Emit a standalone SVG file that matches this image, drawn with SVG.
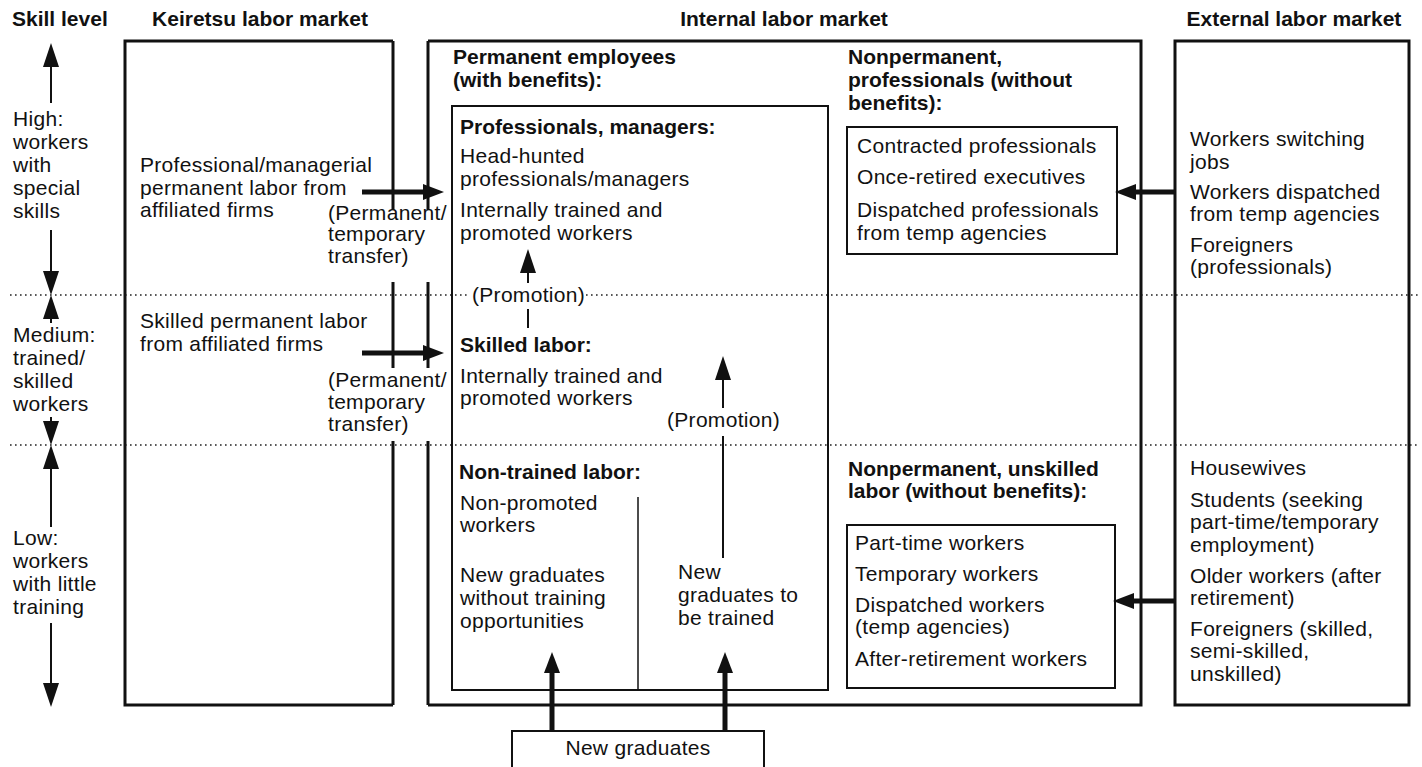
<svg xmlns="http://www.w3.org/2000/svg" width="1422" height="767" viewBox="0 0 1422 767">
  <style>
    text { font-family: "Liberation Sans", Arial, sans-serif; font-size: 21px; fill: #111; letter-spacing: 0.3px; }
    .h { font-weight: bold; letter-spacing: 0; }
    .title { font-weight: bold; letter-spacing: 0; text-anchor: middle; }
    .mid { text-anchor: middle; }
    .frame { fill: none; stroke: #111; stroke-width: 3; }
    .box { fill: none; stroke: #111; stroke-width: 2; }
    .rule { fill: none; stroke: #111; stroke-width: 1.5; }
    .dots { fill: none; stroke: #222; stroke-width: 1.6; stroke-dasharray: 1.6 3.4; }
    .thin { fill: none; stroke: #111; stroke-width: 2; }
    .thick { fill: none; stroke: #111; stroke-width: 5; }
  </style>
  <defs>
    <marker id="head-thin" viewBox="0 -8 24 16" markerWidth="24" markerHeight="16" refX="0" refY="0" markerUnits="userSpaceOnUse" orient="auto">
      <path d="M0,-8 L24,0 L0,8 Z" fill="#111"/>
    </marker>
    <marker id="head-thick" viewBox="0 -8 21 16" markerWidth="21" markerHeight="16" refX="0" refY="0" markerUnits="userSpaceOnUse" orient="auto">
      <path d="M0,-8 L21,0 L0,8 Z" fill="#111"/>
    </marker>
  </defs>

  <rect width="1422" height="767" fill="#fff"/>

  <!-- column titles -->
  <g id="titles">
    <text class="h" x="12" y="26">Skill level</text>
    <text class="title" x="260" y="26">Keiretsu labor market</text>
    <text class="title" x="784" y="26">Internal labor market</text>
    <text class="title" x="1294" y="26">External labor market</text>
  </g>

  <!-- skill level band separators -->
  <g id="bands">
    <path class="dots" d="M10,295 H470 M586,295 H1420"/>
    <path class="dots" d="M10,445 H1420"/>
  </g>

  <!-- skill level scale -->
  <g id="skill-scale">
    <text x="13" y="126">High:</text>
    <text x="13" y="149">workers</text>
    <text x="13" y="172">with</text>
    <text x="13" y="195">special</text>
    <text x="13" y="218">skills</text>
    <text x="13" y="342">Medium:</text>
    <text x="13" y="365">trained/</text>
    <text x="13" y="388">skilled</text>
    <text x="13" y="411">workers</text>
    <text x="13" y="545">Low:</text>
    <text x="13" y="568">workers</text>
    <text x="13" y="591">with little</text>
    <text x="13" y="614">training</text>
  </g>

  <!-- keiretsu labor market -->
  <g id="keiretsu">
    <path class="frame" d="M393,41 H125 V705 H393"/>
    <path class="frame" d="M393,41 V210 M393,282 V368 M393,441 V705"/>
    <text x="140" y="172">Professional/managerial</text>
    <text x="140" y="195">permanent labor from</text>
    <text x="140" y="217">affiliated firms</text>
    <text x="140" y="328">Skilled permanent labor</text>
    <text x="140" y="351">from affiliated firms</text>
  </g>

  <!-- internal labor market frame -->
  <g id="internal">
    <path class="frame" d="M428,41 H1141 V705 H428"/>
    <path class="frame" d="M428,41 V210 M428,282 V368 M428,441 V705"/>
  </g>

  <!-- transfer labels between keiretsu and internal markets -->
  <g id="transfer-labels">
    <text x="328" y="220">(Permanent/</text>
    <text x="328" y="241">temporary</text>
    <text x="328" y="263">transfer)</text>
    <text x="328" y="387">(Permanent/</text>
    <text x="328" y="409">temporary</text>
    <text x="328" y="431">transfer)</text>
  </g>

  <!-- permanent employees -->
  <g id="permanent">
    <text class="h" x="453" y="64">Permanent employees</text>
    <text class="h" x="453" y="87">(with benefits):</text>
    <rect class="box" x="452" y="106" width="376" height="584"/>
    <path class="rule" d="M638,497 V690"/>
    <text class="h" x="460" y="134">Professionals, managers:</text>
    <text x="460" y="163">Head-hunted</text>
    <text x="460" y="186">professionals/managers</text>
    <text x="460" y="217">Internally trained and</text>
    <text x="460" y="240">promoted workers</text>
    <text x="472" y="302">(Promotion)</text>
    <text class="h" x="460" y="352">Skilled labor:</text>
    <text x="460" y="383">Internally trained and</text>
    <text x="460" y="405">promoted workers</text>
    <text x="667" y="427">(Promotion)</text>
    <text class="h" x="459" y="479">Non-trained labor:</text>
    <text x="460" y="510">Non-promoted</text>
    <text x="460" y="532">workers</text>
    <text x="460" y="582">New graduates</text>
    <text x="460" y="605">without training</text>
    <text x="460" y="628">opportunities</text>
    <text x="678" y="579">New</text>
    <text x="678" y="602">graduates to</text>
    <text x="678" y="625">be trained</text>
  </g>

  <!-- nonpermanent professionals -->
  <g id="nonperm-professionals">
    <text class="h" x="848" y="64">Nonpermanent,</text>
    <text class="h" x="848" y="87">professionals (without</text>
    <text class="h" x="848" y="110">benefits):</text>
    <rect class="box" x="847" y="127" width="270" height="127"/>
    <text x="857" y="153">Contracted professionals</text>
    <text x="857" y="184">Once-retired executives</text>
    <text x="857" y="217">Dispatched professionals</text>
    <text x="857" y="240">from temp agencies</text>
  </g>

  <!-- nonpermanent unskilled -->
  <g id="nonperm-unskilled">
    <text class="h" x="848" y="476">Nonpermanent, unskilled</text>
    <text class="h" x="848" y="498">labor (without benefits):</text>
    <rect class="box" x="847" y="525" width="268" height="163"/>
    <text x="855" y="550">Part-time workers</text>
    <text x="855" y="581">Temporary workers</text>
    <text x="855" y="612">Dispatched workers</text>
    <text x="855" y="634">(temp agencies)</text>
    <text x="855" y="666">After-retirement workers</text>
  </g>

  <!-- external labor market -->
  <g id="external">
    <rect class="frame" x="1175" y="41" width="234" height="664"/>
    <text x="1190" y="146">Workers switching</text>
    <text x="1190" y="169">jobs</text>
    <text x="1190" y="199">Workers dispatched</text>
    <text x="1190" y="221">from temp agencies</text>
    <text x="1190" y="252">Foreigners</text>
    <text x="1190" y="274">(professionals)</text>
    <text x="1190" y="475">Housewives</text>
    <text x="1190" y="507">Students (seeking</text>
    <text x="1190" y="529">part-time/temporary</text>
    <text x="1190" y="552">employment)</text>
    <text x="1190" y="583">Older workers (after</text>
    <text x="1190" y="605">retirement)</text>
    <text x="1190" y="636">Foreigners (skilled,</text>
    <text x="1190" y="658">semi-skilled,</text>
    <text x="1190" y="681">unskilled)</text>
  </g>

  <!-- new graduates source -->
  <g id="new-graduates">
    <path class="box" d="M512,770 V731 H764 V770"/>
    <text class="mid" x="638" y="755">New graduates</text>
  </g>

  <!-- connectors -->
  <g id="connectors">
    <!-- skill level scale arrows -->
    <path class="thin" d="M51,103 V67" marker-end="url(#head-thin)"/>
    <path class="thin" d="M51,230 V271" marker-end="url(#head-thin)"/>
    <path class="thin" d="M51,323 V319" marker-end="url(#head-thin)"/>
    <path class="thin" d="M51,417 V421" marker-end="url(#head-thin)"/>
    <path class="thin" d="M51,527 V469" marker-end="url(#head-thin)"/>
    <path class="thin" d="M51,623 V683" marker-end="url(#head-thin)"/>
    <!-- transfers from keiretsu firms -->
    <path class="thick" d="M362,192 H423" marker-end="url(#head-thick)"/>
    <path class="thick" d="M362,353 H423" marker-end="url(#head-thick)"/>
    <!-- promotions -->
    <path class="thin" d="M528,283 V273" marker-end="url(#head-thin)"/>
    <path class="thin" d="M528,309 V328"/>
    <path class="thin" d="M723,408 V380" marker-end="url(#head-thin)"/>
    <path class="thin" d="M723,436 V558"/>
    <!-- hiring of new graduates -->
    <path class="thick" d="M552,731 V673" marker-end="url(#head-thick)"/>
    <path class="thick" d="M725,731 V673" marker-end="url(#head-thick)"/>
    <!-- recruitment from the external market -->
    <path class="thick" d="M1175,192 H1136" marker-end="url(#head-thick)"/>
    <path class="thick" d="M1175,601 H1134" marker-end="url(#head-thick)"/>
  </g>
</svg>
